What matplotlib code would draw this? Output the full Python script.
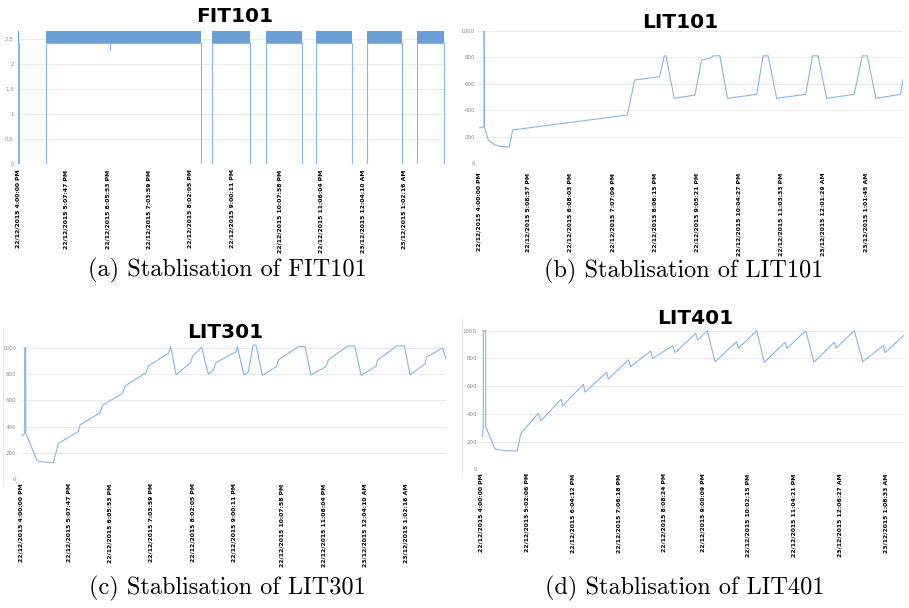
from datetime import datetime

import matplotlib
matplotlib.use("Agg")
from matplotlib import pyplot as plt
from matplotlib.lines import Line2D

W, H = 909, 608

# ---------------- DATA (time in minutes after 22/12/2015 4:00:00 PM)
# FIT101 flow: periods where the pump is running (band around 2.5)
fit_on_start = [0, 39, 273, 348.5, 419, 490, 560.5]
fit_on_end = [2, 257.5, 326, 399, 469.5, 539.8, 599]
fit_band_low = 2.42
fit_band_high = 2.66
fit_dip_t = 129
fit_dip_v = 2.28

lit101_t = [0, 7.2, 7.3, 7.5, 13, 22.4, 31.7, 42.5, 47, 208, 218, 253, 259.5, 262,
            273.5, 302.5, 311.8, 323.5, 328, 337.5, 348, 389, 398, 405, 417, 457.6,
            467.4, 475, 487, 525.6, 537, 544, 556, 590.5, 594]
lit101_v = [265, 275, 1000, 275, 174, 136, 124, 121, 250, 364, 629, 654, 811, 811,
            490, 515, 780, 793, 812, 812, 490, 520, 812, 812, 490, 520,
            812, 812, 490, 520, 812, 812, 490, 520, 630]

lit301_t = [2, 5.5, 5.6, 7, 7.2, 22.5, 27, 46, 53, 81, 83.5, 111.6, 115.4, 143.5, 146.8,
            176.3, 179.6, 207.7, 211, 218.6, 239, 242, 254.7, 264, 271, 274.8, 303,
            304.8, 314, 320, 327, 331, 340, 360, 362.5, 390.7, 400, 408.5, 429.6,
            432.9, 460, 470, 479, 499.6, 502.4, 529, 540, 547.8, 569, 571, 593.8, 598]
lit301_v = [329, 350, 1000, 1000, 350, 147, 134, 126, 273, 362, 413, 506, 565, 653, 709,
            810, 861, 957, 1008, 793, 886, 937, 1003, 798, 830, 886, 970,
            1008, 793, 813, 1020, 1020, 790, 856, 906, 1008, 1008, 793, 856,
            906, 1013, 1013, 790, 856, 906, 1013, 1013, 793, 878, 929, 998, 918]

lit401_t = [1.8, 3.1, 3.2, 6.3, 6.4, 19, 32.5, 49, 54, 77.6, 80.8, 108.4, 110.6, 138.6,
            140.9, 170.2, 172.4, 199.5, 202.7, 229.8, 232.5, 259.6, 262.8, 290.8, 293.5,
            306.5, 317, 346.3, 348.5, 373.4, 383.7, 411.7, 414.5, 439.8, 451, 478.6,
            480.8, 505.6, 517, 544.9, 547.2, 573.3]
lit401_v = [235, 300, 1000, 1000, 307, 146, 134, 132, 260, 404, 349, 505, 457, 613,
            556, 700, 651, 789, 741, 853, 801, 890, 841, 981, 933,
            1000, 776, 921, 873, 1000, 772, 916, 873, 1000, 772, 916,
            873, 1000, 776, 892, 841, 969]

# x tick labels (Excel date axis)
labels_a = ["22/12/2015 4:00:00 PM", "22/12/2015 5:07:47 PM", "22/12/2015 6:05:53 PM",
            "22/12/2015 7:03:59 PM", "22/12/2015 8:02:05 PM", "22/12/2015 9:00:11 PM",
            "22/12/2015 10:07:58 PM", "22/12/2015 11:06:04 PM", "23/12/2015 12:04:10 AM",
            "23/12/2015 1:02:16 AM"]
labels_b = ["22/12/2015 4:00:00 PM", "22/12/2015 5:08:57 PM", "22/12/2015 6:08:03 PM",
            "22/12/2015 7:07:09 PM", "22/12/2015 8:06:15 PM", "22/12/2015 9:05:21 PM",
            "22/12/2015 10:04:27 PM", "22/12/2015 11:03:33 PM", "23/12/2015 12:01:29 AM",
            "23/12/2015 1:01:45 AM"]
labels_c = labels_a
labels_d = ["22/12/2015 4:00:00 PM", "22/12/2015 5:02:06 PM", "22/12/2015 6:04:12 PM",
            "22/12/2015 7:06:18 PM", "22/12/2015 8:08:24 PM", "22/12/2015 9:00:09 PM",
            "22/12/2015 10:02:15 PM", "22/12/2015 11:04:21 PM", "23/12/2015 12:06:27 AM",
            "23/12/2015 1:08:33 AM"]

yticks_a = [0, 0.5, 1, 1.5, 2, 2.5]
yticks_lit = [0, 200, 400, 600, 800, 1000]

titles = ["FIT101", "LIT101", "LIT301", "LIT401"]
captions = ["(a) Stablisation of FIT101", "(b) Stablisation of LIT101",
            "(c) Stablisation of LIT301", "(d) Stablisation of LIT401"]

START = datetime(2015, 12, 22, 16, 0, 0)


def to_minutes(labels):
    return [(datetime.strptime(s, "%d/%m/%Y %I:%M:%S %p") - START).total_seconds() / 60
            for s in labels]


LINE_C = "#8ab6e6"
BAND_C = "#6b9fd6"


def make_axes(fig, left, right, top, bottom):
    # pixel box -> figure fraction
    ax = fig.add_axes([left / W, 1 - bottom / H, (right - left) / W, (bottom - top) / H])
    for s in ax.spines.values():
        s.set_visible(False)
    ax.yaxis.grid(True, color="#e6e6e6", lw=0.6)
    ax.set_axisbelow(True)
    ax.tick_params(axis="both", length=0)
    ax.tick_params(axis="y", labelsize=4, labelcolor="#8c8c8c", pad=3)
    return ax


def set_xlabels(ax, labels, pad):
    ax.set_xticks(to_minutes(labels))
    ax.set_xticklabels(labels, rotation=90, fontsize=4.4, fontweight="bold",
                       family="DejaVu Sans", va="top")
    ax.tick_params(axis="x", pad=pad)


fig = plt.figure(figsize=(W / 100, H / 100), dpi=100)

# ---- (a) FIT101
ax = make_axes(fig, 18, 445.2, 29, 164)
for s, e in zip(fit_on_start, fit_on_end):
    ax.plot([s, s, e, e], [0, fit_band_low, fit_band_low, 0], color=LINE_C, lw=0.8)
    ax.fill_between([s, e], fit_band_low, fit_band_high, color=BAND_C, lw=0, zorder=3)
ax.plot([fit_dip_t, fit_dip_t], [fit_band_low, fit_dip_v], color=LINE_C, lw=0.8)
ax.set_xlim(0, 600)
ax.set_ylim(0, 2.7)
ax.set_yticks(yticks_a)
ax.set_yticklabels(["0", "0.5", "1", "1.5", "2", "2.5"])
set_xlabels(ax, labels_a, 4)

# ---- (b) LIT101
ax = make_axes(fig, 479, 903, 31, 163)
ax.plot(lit101_t, lit101_v, color=LINE_C, lw=0.8)
ax.set_xlim(0, 594)
ax.set_ylim(0, 1000)
ax.set_yticks(yticks_lit)
set_xlabels(ax, labels_b, 7)

# ---- (c) LIT301
ax = make_axes(fig, 20.7, 445.7, 342.4, 479.3)
ax.plot(lit301_t, lit301_v, color=LINE_C, lw=0.8)
ax.set_xlim(0, 598)
ax.set_ylim(0, 1040)
ax.set_yticks(yticks_lit)
set_xlabels(ax, labels_c, 3)

# ---- (d) LIT401
ax = make_axes(fig, 481, 904.3, 329.3, 469.3)
ax.plot(lit401_t, lit401_v, color=LINE_C, lw=0.8)
ax.set_xlim(0, 573.3)
ax.set_ylim(0, 1010)
ax.set_yticks(yticks_lit)
set_xlabels(ax, labels_d, 3)

# faint chart borders of the screenshots
fig.add_artist(Line2D([3 / W, 3 / W], [1 - 328 / H, 1 - 485 / H], color="#e4e4e4", lw=0.6))
fig.add_artist(Line2D([462 / W, 462 / W], [1 - 317 / H, 1 - 475 / H], color="#e4e4e4", lw=0.6))

# titles
title_pos = [(235, 17), (680, 23), (225, 332), (695, 319)]
for txt, (x, y) in zip(titles, title_pos):
    fig.text(x / W, 1 - y / H, txt, ha="center", va="center", fontsize=14.5,
             fontweight="bold", family="DejaVu Sans")

# captions
cap_pos = [(227, 270), (684, 271), (227, 588), (685, 588)]
for txt, (x, y) in zip(captions, cap_pos):
    fig.text(x / W, 1 - y / H, txt, ha="center", va="center", fontsize=17.5,
             family="cmr10")

fig.savefig("out.png", dpi=100)
